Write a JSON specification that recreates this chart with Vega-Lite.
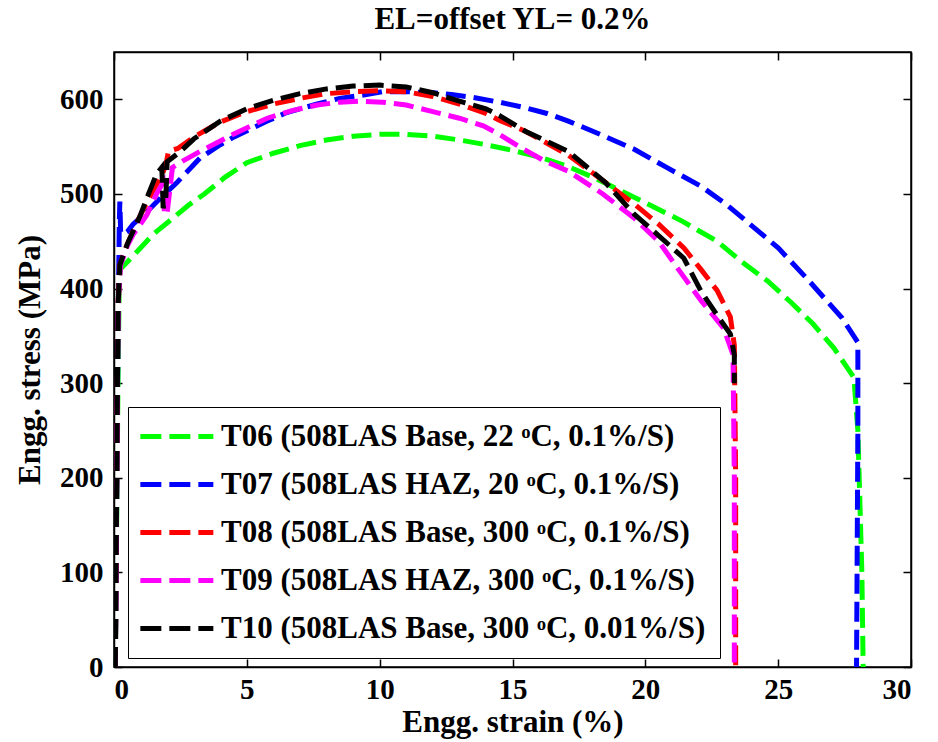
{
  "$schema": "https://vega.github.io/schema/vega-lite/v6.json",
  "width": 797,
  "height": 615,
  "autosize": "none",
  "padding": {"left": 114, "top": 52, "right": 27, "bottom": 75},
  "background": "white",
  "title": {
    "text": "EL=offset YL= 0.2%",
    "font": "Liberation Serif",
    "fontWeight": "bold",
    "fontSize": 31,
    "color": "black",
    "anchor": "middle",
    "offset": 15
  },
  "config": {
    "view": {"stroke": "black", "strokeWidth": 1.5},
    "axis": {
      "domain": true,
      "domainColor": "black",
      "domainWidth": 1.5,
      "grid": false,
      "ticks": true,
      "tickColor": "black",
      "tickWidth": 1.5,
      "tickSize": -8,
      "labelFont": "Liberation Serif",
      "labelFontWeight": "bold",
      "labelFontSize": 29,
      "labelColor": "black",
      "titleFont": "Liberation Serif",
      "titleFontWeight": "bold",
      "titleFontSize": 31,
      "titleColor": "black"
    }
  },
  "data": {
    "values": [
      {"s": "T06", "i": 0, "x": 0.05, "y": 0},
      {"s": "T06", "i": 1, "x": 0.15, "y": 300},
      {"s": "T06", "i": 2, "x": 0.2, "y": 410},
      {"s": "T06", "i": 3, "x": 0.25, "y": 421},
      {"s": "T06", "i": 4, "x": 0.5, "y": 428},
      {"s": "T06", "i": 5, "x": 0.9, "y": 440},
      {"s": "T06", "i": 6, "x": 1.5, "y": 458},
      {"s": "T06", "i": 7, "x": 2.2, "y": 474},
      {"s": "T06", "i": 8, "x": 2.8, "y": 488},
      {"s": "T06", "i": 9, "x": 3.4, "y": 500},
      {"s": "T06", "i": 10, "x": 4.2, "y": 518},
      {"s": "T06", "i": 11, "x": 5.0, "y": 533},
      {"s": "T06", "i": 12, "x": 6.0, "y": 543},
      {"s": "T06", "i": 13, "x": 7.0, "y": 551},
      {"s": "T06", "i": 14, "x": 8.0, "y": 557},
      {"s": "T06", "i": 15, "x": 9.0, "y": 561},
      {"s": "T06", "i": 16, "x": 10.0, "y": 563},
      {"s": "T06", "i": 17, "x": 11.0, "y": 563},
      {"s": "T06", "i": 18, "x": 12.0, "y": 561},
      {"s": "T06", "i": 19, "x": 13.0, "y": 557},
      {"s": "T06", "i": 20, "x": 14.0, "y": 552},
      {"s": "T06", "i": 21, "x": 15.0, "y": 546},
      {"s": "T06", "i": 22, "x": 16.0, "y": 539},
      {"s": "T06", "i": 23, "x": 17.0, "y": 530},
      {"s": "T06", "i": 24, "x": 18.0, "y": 518},
      {"s": "T06", "i": 25, "x": 18.6, "y": 510},
      {"s": "T06", "i": 26, "x": 19.9, "y": 492},
      {"s": "T06", "i": 27, "x": 21.4, "y": 471},
      {"s": "T06", "i": 28, "x": 22.7, "y": 450},
      {"s": "T06", "i": 29, "x": 23.6, "y": 429},
      {"s": "T06", "i": 30, "x": 24.6, "y": 408},
      {"s": "T06", "i": 31, "x": 25.5, "y": 385},
      {"s": "T06", "i": 32, "x": 26.3, "y": 363},
      {"s": "T06", "i": 33, "x": 27.1, "y": 337},
      {"s": "T06", "i": 34, "x": 27.85, "y": 306},
      {"s": "T06", "i": 35, "x": 28.0, "y": 250},
      {"s": "T06", "i": 36, "x": 28.15, "y": 100},
      {"s": "T06", "i": 37, "x": 28.2, "y": 0},

      {"s": "T07", "i": 0, "x": 0.05, "y": 0},
      {"s": "T07", "i": 1, "x": 0.15, "y": 350},
      {"s": "T07", "i": 2, "x": 0.2, "y": 470},
      {"s": "T07", "i": 3, "x": 0.22, "y": 492},
      {"s": "T07", "i": 4, "x": 0.25, "y": 460},
      {"s": "T07", "i": 5, "x": 0.35, "y": 457},
      {"s": "T07", "i": 6, "x": 0.5, "y": 460},
      {"s": "T07", "i": 7, "x": 0.72, "y": 468},
      {"s": "T07", "i": 8, "x": 1.2, "y": 480},
      {"s": "T07", "i": 9, "x": 1.8, "y": 497},
      {"s": "T07", "i": 10, "x": 2.37, "y": 512},
      {"s": "T07", "i": 11, "x": 3.24, "y": 538},
      {"s": "T07", "i": 12, "x": 4.0, "y": 552},
      {"s": "T07", "i": 13, "x": 4.5, "y": 560},
      {"s": "T07", "i": 14, "x": 5.77, "y": 577},
      {"s": "T07", "i": 15, "x": 6.5, "y": 586},
      {"s": "T07", "i": 16, "x": 7.65, "y": 595},
      {"s": "T07", "i": 17, "x": 8.5, "y": 601},
      {"s": "T07", "i": 18, "x": 9.5, "y": 605},
      {"s": "T07", "i": 19, "x": 10.1, "y": 608},
      {"s": "T07", "i": 20, "x": 11.0, "y": 608},
      {"s": "T07", "i": 21, "x": 12.0, "y": 607},
      {"s": "T07", "i": 22, "x": 12.7, "y": 605},
      {"s": "T07", "i": 23, "x": 13.5, "y": 602},
      {"s": "T07", "i": 24, "x": 14.5, "y": 597},
      {"s": "T07", "i": 25, "x": 15.5, "y": 591},
      {"s": "T07", "i": 26, "x": 16.3, "y": 585},
      {"s": "T07", "i": 27, "x": 17.1, "y": 577},
      {"s": "T07", "i": 28, "x": 18.3, "y": 563},
      {"s": "T07", "i": 29, "x": 19.6, "y": 547},
      {"s": "T07", "i": 30, "x": 20.8, "y": 528},
      {"s": "T07", "i": 31, "x": 22.1, "y": 508},
      {"s": "T07", "i": 32, "x": 23.0, "y": 490},
      {"s": "T07", "i": 33, "x": 23.6, "y": 476},
      {"s": "T07", "i": 34, "x": 25.0, "y": 443},
      {"s": "T07", "i": 35, "x": 26.1, "y": 410},
      {"s": "T07", "i": 36, "x": 27.4, "y": 369},
      {"s": "T07", "i": 37, "x": 28.0, "y": 343},
      {"s": "T07", "i": 38, "x": 28.0, "y": 250},
      {"s": "T07", "i": 39, "x": 27.97, "y": 100},
      {"s": "T07", "i": 40, "x": 27.95, "y": 0},

      {"s": "T08", "i": 0, "x": 0.05, "y": 0},
      {"s": "T08", "i": 1, "x": 0.15, "y": 380},
      {"s": "T08", "i": 2, "x": 0.22, "y": 425},
      {"s": "T08", "i": 3, "x": 0.5, "y": 447},
      {"s": "T08", "i": 4, "x": 1.0, "y": 478},
      {"s": "T08", "i": 5, "x": 1.5, "y": 505},
      {"s": "T08", "i": 6, "x": 1.8, "y": 520},
      {"s": "T08", "i": 7, "x": 1.95, "y": 530},
      {"s": "T08", "i": 8, "x": 2.05, "y": 545},
      {"s": "T08", "i": 9, "x": 2.4, "y": 548},
      {"s": "T08", "i": 10, "x": 3.0, "y": 560},
      {"s": "T08", "i": 11, "x": 4.0, "y": 576},
      {"s": "T08", "i": 12, "x": 5.0, "y": 587},
      {"s": "T08", "i": 13, "x": 6.0, "y": 595},
      {"s": "T08", "i": 14, "x": 7.0, "y": 601},
      {"s": "T08", "i": 15, "x": 8.0, "y": 606},
      {"s": "T08", "i": 16, "x": 9.0, "y": 608},
      {"s": "T08", "i": 17, "x": 10.0, "y": 609},
      {"s": "T08", "i": 18, "x": 11.0, "y": 608},
      {"s": "T08", "i": 19, "x": 12.0, "y": 603},
      {"s": "T08", "i": 20, "x": 13.0, "y": 595},
      {"s": "T08", "i": 21, "x": 14.0, "y": 585},
      {"s": "T08", "i": 22, "x": 14.5, "y": 578},
      {"s": "T08", "i": 23, "x": 15.5, "y": 566},
      {"s": "T08", "i": 24, "x": 17.1, "y": 541},
      {"s": "T08", "i": 25, "x": 18.5, "y": 512},
      {"s": "T08", "i": 26, "x": 19.6, "y": 489},
      {"s": "T08", "i": 27, "x": 20.5, "y": 468},
      {"s": "T08", "i": 28, "x": 21.45, "y": 443},
      {"s": "T08", "i": 29, "x": 22.1, "y": 420},
      {"s": "T08", "i": 30, "x": 22.7, "y": 398},
      {"s": "T08", "i": 31, "x": 23.2, "y": 370},
      {"s": "T08", "i": 32, "x": 23.35, "y": 340},
      {"s": "T08", "i": 33, "x": 23.4, "y": 200},
      {"s": "T08", "i": 34, "x": 23.4, "y": 0},

      {"s": "T09", "i": 0, "x": 0.05, "y": 0},
      {"s": "T09", "i": 1, "x": 0.15, "y": 380},
      {"s": "T09", "i": 2, "x": 0.25, "y": 425},
      {"s": "T09", "i": 3, "x": 0.5, "y": 445},
      {"s": "T09", "i": 4, "x": 0.72, "y": 457},
      {"s": "T09", "i": 5, "x": 1.24, "y": 478},
      {"s": "T09", "i": 6, "x": 1.6, "y": 500},
      {"s": "T09", "i": 7, "x": 1.85, "y": 512},
      {"s": "T09", "i": 8, "x": 1.9, "y": 478},
      {"s": "T09", "i": 9, "x": 2.0, "y": 480},
      {"s": "T09", "i": 10, "x": 2.2, "y": 528},
      {"s": "T09", "i": 11, "x": 2.6, "y": 535},
      {"s": "T09", "i": 12, "x": 3.24, "y": 545},
      {"s": "T09", "i": 13, "x": 4.49, "y": 563},
      {"s": "T09", "i": 14, "x": 5.77, "y": 580},
      {"s": "T09", "i": 15, "x": 6.7, "y": 588},
      {"s": "T09", "i": 16, "x": 7.65, "y": 594},
      {"s": "T09", "i": 17, "x": 8.5, "y": 597},
      {"s": "T09", "i": 18, "x": 9.3, "y": 598},
      {"s": "T09", "i": 19, "x": 10.1, "y": 597},
      {"s": "T09", "i": 20, "x": 11.0, "y": 594},
      {"s": "T09", "i": 21, "x": 12.0, "y": 587},
      {"s": "T09", "i": 22, "x": 13.0, "y": 580},
      {"s": "T09", "i": 23, "x": 13.9, "y": 572},
      {"s": "T09", "i": 24, "x": 14.5, "y": 563},
      {"s": "T09", "i": 25, "x": 15.3, "y": 549},
      {"s": "T09", "i": 26, "x": 16.2, "y": 535},
      {"s": "T09", "i": 27, "x": 17.1, "y": 524},
      {"s": "T09", "i": 28, "x": 18.4, "y": 500},
      {"s": "T09", "i": 29, "x": 19.6, "y": 474},
      {"s": "T09", "i": 30, "x": 20.5, "y": 450},
      {"s": "T09", "i": 31, "x": 21.2, "y": 422},
      {"s": "T09", "i": 32, "x": 22.1, "y": 387},
      {"s": "T09", "i": 33, "x": 22.95, "y": 358},
      {"s": "T09", "i": 34, "x": 23.3, "y": 330},
      {"s": "T09", "i": 35, "x": 23.35, "y": 200},
      {"s": "T09", "i": 36, "x": 23.35, "y": 0},

      {"s": "T10", "i": 0, "x": 0.05, "y": 0},
      {"s": "T10", "i": 1, "x": 0.15, "y": 380},
      {"s": "T10", "i": 2, "x": 0.22, "y": 425},
      {"s": "T10", "i": 3, "x": 0.5, "y": 447},
      {"s": "T10", "i": 4, "x": 1.0, "y": 478},
      {"s": "T10", "i": 5, "x": 1.3, "y": 500},
      {"s": "T10", "i": 6, "x": 1.6, "y": 521},
      {"s": "T10", "i": 7, "x": 1.8, "y": 528},
      {"s": "T10", "i": 8, "x": 1.85, "y": 485},
      {"s": "T10", "i": 9, "x": 1.95, "y": 495},
      {"s": "T10", "i": 10, "x": 2.0, "y": 534},
      {"s": "T10", "i": 11, "x": 2.5, "y": 545},
      {"s": "T10", "i": 12, "x": 3.0, "y": 558},
      {"s": "T10", "i": 13, "x": 4.0, "y": 577},
      {"s": "T10", "i": 14, "x": 5.0, "y": 590},
      {"s": "T10", "i": 15, "x": 6.0, "y": 599},
      {"s": "T10", "i": 16, "x": 7.0, "y": 606},
      {"s": "T10", "i": 17, "x": 8.0, "y": 611},
      {"s": "T10", "i": 18, "x": 9.0, "y": 614},
      {"s": "T10", "i": 19, "x": 10.0, "y": 615},
      {"s": "T10", "i": 20, "x": 11.0, "y": 613},
      {"s": "T10", "i": 21, "x": 12.0, "y": 607},
      {"s": "T10", "i": 22, "x": 13.0, "y": 598},
      {"s": "T10", "i": 23, "x": 14.0, "y": 590},
      {"s": "T10", "i": 24, "x": 14.5, "y": 583},
      {"s": "T10", "i": 25, "x": 15.5, "y": 566},
      {"s": "T10", "i": 26, "x": 17.1, "y": 545},
      {"s": "T10", "i": 27, "x": 18.5, "y": 512},
      {"s": "T10", "i": 28, "x": 19.6, "y": 478},
      {"s": "T10", "i": 29, "x": 20.5, "y": 456},
      {"s": "T10", "i": 30, "x": 21.45, "y": 432},
      {"s": "T10", "i": 31, "x": 22.1, "y": 397},
      {"s": "T10", "i": 32, "x": 22.7, "y": 372},
      {"s": "T10", "i": 33, "x": 23.2, "y": 352},
      {"s": "T10", "i": 34, "x": 23.35, "y": 330},
      {"s": "T10", "i": 35, "x": 23.35, "y": 300}
    ]
  },
  "layer": [
    {
      "mark": {"type": "line", "strokeWidth": 5, "strokeDash": [20, 8], "clip": true},
      "encoding": {
        "x": {
          "field": "x", "type": "quantitative",
          "scale": {"domain": [0, 30], "nice": false, "zero": false},
          "axis": {"title": "Engg. strain (%)", "values": [0, 5, 10, 15, 20, 25, 30], "labelPadding": 16, "titlePadding": 3}
        },
        "y": {
          "field": "y", "type": "quantitative",
          "scale": {"domain": [0, 650], "nice": false, "zero": false},
          "axis": {"title": "Engg. stress (MPa)", "values": [0, 100, 200, 300, 400, 500, 600], "labelPadding": 19, "titlePadding": 13}
        },
        "color": {
          "field": "s", "type": "nominal",
          "scale": {
            "domain": ["T06", "T07", "T08", "T09", "T10"],
            "range": ["#00ff00", "#0000ff", "#ff0000", "#ff00ff", "#000000"]
          },
          "legend": {
            "orient": "none",
            "legendX": 14,
            "legendY": 355,
            "title": null,
            "labelExpr": "datum.label == 'T06' ? 'T06 (508LAS Base, 22 ᵒC, 0.1%/S)' : datum.label == 'T07' ? 'T07 (508LAS HAZ, 20 ᵒC, 0.1%/S)' : datum.label == 'T08' ? 'T08 (508LAS Base, 300 ᵒC, 0.1%/S)' : datum.label == 'T09' ? 'T09 (508LAS HAZ, 300 ᵒC, 0.1%/S)' : 'T10 (508LAS Base, 300 ᵒC, 0.01%/S)'",
            "strokeColor": "black",
            "fillColor": "white",
            "padding": 14,
            "symbolType": "M-1.88,0H6.12",
            "symbolStrokeWidth": 5,
            "symbolSize": 333,
            "symbolDash": [21, 8],
            "symbolOpacity": 1,
            "labelFont": "Liberation Serif",
            "labelFontWeight": "bold",
            "labelFontSize": 31,
            "labelColor": "black",
            "labelLimit": 0,
            "labelOffset": 48,
            "rowPadding": 16
          }
        },
        "order": {"field": "i", "type": "quantitative"}
      }
    },
    {
      "mark": {"type": "point", "opacity": 0},
      "encoding": {
        "x": {
          "field": "x", "type": "quantitative",
          "scale": {"domain": [0, 30], "nice": false, "zero": false},
          "axis": {"orient": "top", "title": null, "labels": false, "values": [0, 5, 10, 15, 20, 25, 30]}
        },
        "y": {
          "field": "y", "type": "quantitative",
          "scale": {"domain": [0, 650], "nice": false, "zero": false},
          "axis": {"orient": "right", "title": null, "labels": false, "values": [0, 100, 200, 300, 400, 500, 600]}
        }
      }
    }
  ],
  "resolve": {"axis": {"x": "independent", "y": "independent"}}
}
